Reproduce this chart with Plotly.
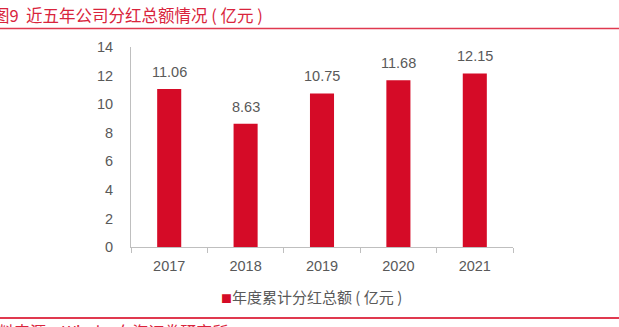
import plotly.graph_objects as go

years = ["2017", "2018", "2019", "2020", "2021"]
dividends = [11.06, 8.63, 10.75, 11.68, 12.15]
series_name = "年度累计分红总额 ( 亿元 )"
title_text = "图9  近五年公司分红总额情况 ( 亿元 )"
source_text = "资料来源：Wind，东海证券研究所"
y_ticks = [0, 2, 4, 6, 8, 10, 12, 14]

W, H = 619, 327
L, R, T, B = 131, 106, 47, 80
pw = W - L - R
ph = H - T - B

RED = "#d50b27"
GRAY = "#595959"
FONT = "Liberation Sans, Arial, Noto Sans CJK SC, sans-serif"
CJK = "Noto Sans CJK SC, sans-serif"

fig = go.Figure()
fig.add_trace(go.Bar(
    x=years, y=dividends, name=series_name,
    marker=dict(color=RED, line=dict(width=0)),
    showlegend=False,
))

for i, yv in enumerate(dividends):
    fig.add_annotation(
        x=i, y=yv, xref="x", yref="y", text=f"{yv:.2f}",
        showarrow=False, yanchor="bottom", yshift=7,
        font=dict(size=14.5, color=GRAY, family=FONT),
    )

def px_x(p):
    return (p - L) / pw

def px_y(p):
    return 1 - (p - T) / ph

fig.add_annotation(
    x=px_x(-9), y=px_y(15), xref="paper", yref="paper",
    text=title_text, showarrow=False, xanchor="left", yanchor="middle",
    font=dict(size=16.5, color="#d9243c", family=CJK),
)
fig.add_annotation(
    x=px_x(-20), y=px_y(317), xref="paper", yref="paper",
    text=source_text, showarrow=False, xanchor="left", yanchor="top",
    font=dict(size=16, color="#d9243c", family=CJK),
)
# legend entry (marker + series name)
fig.add_annotation(
    x=px_x(219), y=px_y(296), xref="paper", yref="paper",
    text=f'<span style="color:{RED};font-size:11px">■</span>{series_name}',
    showarrow=False, xanchor="left", yanchor="middle",
    font=dict(size=15, color=GRAY, family=CJK),
)
fig.add_shape(type="line", xref="paper", yref="paper",
              x0=px_x(0), x1=px_x(W), y0=px_y(28.5), y1=px_y(28.5),
              line=dict(color="#e0394f", width=1.5))
fig.add_shape(type="line", xref="paper", yref="paper",
              x0=px_x(0), x1=px_x(W), y0=px_y(318), y1=px_y(318),
              line=dict(color="#e0394f", width=2))

fig.update_layout(
    width=W, height=H,
    margin=dict(l=L, r=R, t=T, b=B, pad=0),
    paper_bgcolor="white", plot_bgcolor="white",
    bargap=0.685,
    font=dict(family=FONT, color=GRAY, size=14),
    showlegend=False,
    xaxis=dict(
        type="category", range=[-0.5, len(years) - 0.5],
        showline=True, linecolor="#bfbfbf", linewidth=1,
        ticks="outside", tickson="boundaries", ticklen=5, tickcolor="#bfbfbf",
        ticklabelstandoff=6,
        tickfont=dict(size=14.5, color=GRAY, family=FONT),
        showgrid=False, zeroline=False,
    ),
    yaxis=dict(
        range=[0, 14], tickvals=y_ticks,
        showline=True, linecolor="#bfbfbf", linewidth=1,
        ticks="", ticklabelstandoff=14,
        tickfont=dict(size=14.5, color=GRAY, family=FONT),
        showgrid=False, zeroline=False,
    ),
)

fig.write_html("out.html")
